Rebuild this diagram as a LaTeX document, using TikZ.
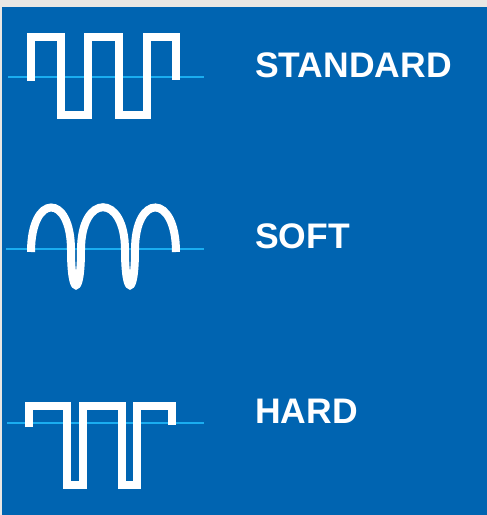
\documentclass[tikz,border=0pt]{standalone}
\usepackage{fontspec}
\setmainfont{Liberation Sans}
\usepackage{tikz}
\usetikzlibrary{positioning,calc}
\definecolor{paper}{HTML}{E9E7E4}
\definecolor{panel}{HTML}{0064B1}
\definecolor{axis}{HTML}{1AADF0}
\begin{document}
\begin{tikzpicture}[x=1pt,y=-1pt,
              wave/.style={white,line width=8pt,line join=miter},
              soft/.style={white,line width=8pt},
              zero/.style={axis,line width=2pt},
              lab/.style={text=white,font=\bfseries\fontsize{35.5}{35.5}\selectfont,anchor=west,inner sep=0}]
              \fill[paper] (0,0) rectangle (487,515);
              \fill[panel] (1.5,7) rectangle (487,515);
              % zero lines
              \draw[zero] (8,76.5) -- (204,76.5);
              \draw[zero] (6,249) -- (204,249);
              \draw[zero] (7,423) -- (204,423);
              % standard
              \draw[wave] (31,81) |- (61,36.5) |- (88,115) |- (119,36.5) |- (147,115)
              |- (176,36.5) -- (176,80);
              % soft
              \draw[soft] (31,252) .. controls (31,193) and (71,193) .. (71,250)
              .. controls (71,297) and (81,297) .. (81,250)
              .. controls (81,193) and (125,193) .. (125,250)
              .. controls (125,297) and (135,297) .. (135,250)
              .. controls (135,193) and (176,193) .. (176,252);
              % hard
              \draw[wave] (29,427) |- (67,405.5) |- (83,485) |- (122,405.5) |- (137,485)
              |- (171.5,405.5) -- (171.5,425);
              \node[lab] (std) at (255,65.5) {STANDARD};
              \node[lab] (sft) at (255,236) {SOFT};
              \node[lab] (hrd) at (255,411) {HARD};
            \end{tikzpicture}
\end{document}
